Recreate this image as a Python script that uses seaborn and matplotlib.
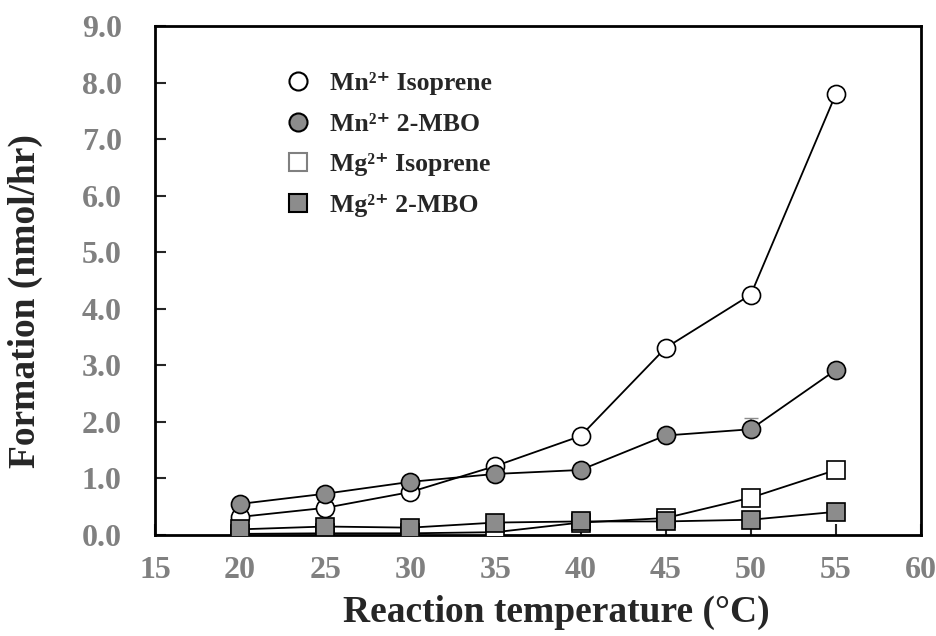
import seaborn as sb
import matplotlib.pyplot as plt
from matplotlib.lines import Line2D
import numpy as np

# data
temps = [20, 25, 30, 35, 40, 45, 50, 55]
mn_isoprene = [0.32, 0.48, 0.76, 1.22, 1.75, 3.31, 4.25, 7.80]
mn_mbo = [0.55, 0.73, 0.94, 1.08, 1.15, 1.76, 1.87, 2.92]
mn_mbo_err = [0.0, 0.0, 0.0, 0.0, 0.0, 0.12, 0.2, 0.0]
mg_isoprene = [0.02, 0.03, 0.03, 0.05, 0.22, 0.30, 0.66, 1.15]
mg_mbo = [0.10, 0.15, 0.13, 0.22, 0.24, 0.24, 0.27, 0.41]

labels = ["Mn\u00b2\u207a Isoprene", "Mn\u00b2\u207a 2-MBO", "Mg\u00b2\u207a Isoprene", "Mg\u00b2\u207a 2-MBO"]
xticks = [15, 20, 25, 30, 35, 40, 45, 50, 55, 60]
yticks = [0, 1, 2, 3, 4, 5, 6, 7, 8, 9]

sb.set_style("ticks")
plt.rcParams['font.family'] = ['Liberation Serif', 'DejaVu Serif']
plt.rcParams['font.weight'] = 'bold'

gray = "#8c8c8c"
fig = plt.figure(figsize=(9.36, 6.36), dpi=100)
ax = fig.add_axes([0.1656, 0.1588, 0.8184, 0.8002])

ms = 13
ax.errorbar(temps, mn_mbo, yerr=[np.zeros(len(mn_mbo_err)), mn_mbo_err], fmt='none',
            ecolor=gray, elinewidth=1.2, capsize=5, zorder=1)

series = [
    (mn_isoprene, 'o', 'white'),
    (mn_mbo, 'o', gray),
    (mg_isoprene, 's', 'white'),
    (mg_mbo, 's', gray),
]
for i, (vals, mk, fc) in enumerate(series):
    sb.lineplot(x=temps, y=vals, ax=ax, color='black', linewidth=1.3,
                marker=mk, markersize=ms, markerfacecolor=fc,
                markeredgecolor='black', markeredgewidth=1.2, zorder=2 + i)

ax.set_xlim(15, 60)
ax.set_ylim(0, 9)
ax.set_xticks(xticks)
ax.set_yticks(yticks)
ax.set_xticklabels([str(t) for t in xticks])
ax.set_yticklabels([f"{t:.1f}" for t in yticks])
ax.tick_params(direction='in', length=8, width=1.5, labelsize=23,
               labelcolor='#808080')
ax.tick_params(axis='y', pad=24)
ax.tick_params(axis='x', pad=15)
for s in ax.spines.values():
    s.set_linewidth(2)
    s.set_color('black')

ax.set_xlabel("Reaction temperature (\u00b0C)", fontsize=27, fontweight='bold')
ax.set_ylabel("Formation (nmol/hr)", fontsize=27, fontweight='bold')
ax.xaxis.set_label_coords(0.5235, -0.118)
ax.yaxis.set_label_coords(-0.146, 0.46)

handles = [
    Line2D([], [], ls='none', marker='o', markersize=ms, markerfacecolor='white',
           markeredgecolor='black', markeredgewidth=1.5),
    Line2D([], [], ls='none', marker='o', markersize=ms, markerfacecolor=gray,
           markeredgecolor='black', markeredgewidth=1.5),
    Line2D([], [], ls='none', marker='s', markersize=ms, markerfacecolor='white',
           markeredgecolor='#808080', markeredgewidth=1.5),
    Line2D([], [], ls='none', marker='s', markersize=ms, markerfacecolor=gray,
           markeredgecolor='black', markeredgewidth=1.5),
]
ax.legend(handles, labels, loc='upper left', bbox_to_anchor=(0.136, 0.955), frameon=False,
          fontsize=18.5, handletextpad=0.66, labelspacing=0.68, handlelength=1.2)

plt.savefig("out.png", dpi=100)
plt.close()
